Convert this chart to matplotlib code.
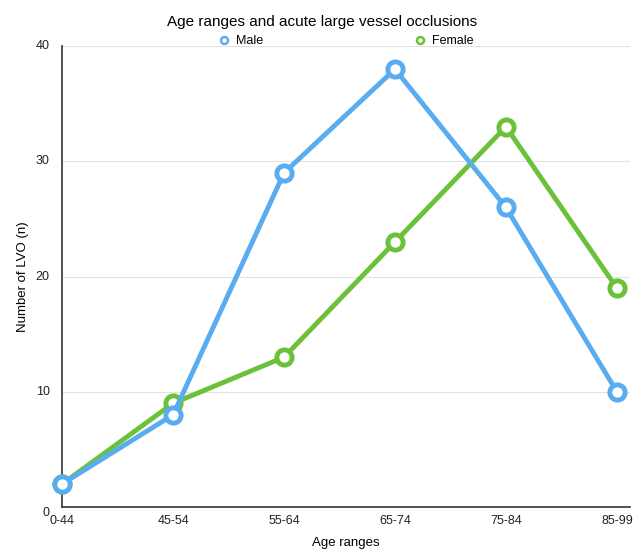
import matplotlib.pyplot as plt
from matplotlib.lines import Line2D

ages = ['0-44', '45-54', '55-64', '65-74', '75-84', '85-99']
male = [2, 8, 29, 38, 26, 10]
female = [2, 9, 13, 23, 33, 19]

blue = '#5aacf0'
green = '#6cc13a'

plt.rcParams['font.family'] = ['Liberation Sans', 'DejaVu Sans']

fig = plt.figure(figsize=(6.34, 5.49), dpi=100)
ax = fig.add_axes([0.098, 0.0765, 0.896, 0.8395])

x = list(range(len(ages)))
ax.plot(x, female, color=green, lw=3.5, marker='o', ms=11, mfc='white',
        mec=green, mew=3.5, label='Female', zorder=3, clip_on=False)
ax.plot(x, male, color=blue, lw=3.5, marker='o', ms=11, mfc='white',
        mec=blue, mew=3.5, label='Male', zorder=4, clip_on=False)

ax.set_xlim(0, 5.12)
ax.set_ylim(0, 40)
ax.set_xticks(x)
ax.set_xticklabels(ages)
ax.set_yticks([0, 10, 20, 30, 40])
ax.tick_params(length=0, labelsize=9, colors='#222222')
ax.tick_params(axis='x', pad=6)
ax.tick_params(axis='y', pad=9)
for lab in ax.get_yticklabels():
    lab.set_verticalalignment('top' if lab.get_text() == '0' else 'center')
ax.grid(axis='y', color='#e2e2e2', lw=0.8)
ax.set_axisbelow(True)
for s in ['top', 'right']:
    ax.spines[s].set_visible(False)
for s in ['left', 'bottom']:
    ax.spines[s].set_color('#333333')
    ax.spines[s].set_linewidth(1.2)

ax.set_xlabel('Age ranges', fontsize=9.5, labelpad=7)
ax.set_ylabel('Number of LVO (n)', fontsize=9.5, labelpad=5)

fig.text(0.508, 0.96, 'Age ranges and acute large vessel occlusions',
         ha='center', va='center', fontsize=11)

hm = Line2D([], [], ls='none', marker='o', ms=5, mfc='white', mec=blue, mew=1.8)
hf = Line2D([], [], ls='none', marker='o', ms=5, mfc='white', mec=green, mew=1.8)
fig.legend([hm, hf], ['Male', 'Female'], loc='center', bbox_to_anchor=(0.545, 0.925),
           ncol=2, frameon=False, fontsize=9, columnspacing=12, handletextpad=0.5,
           handlelength=1)

fig.savefig('out.png', dpi=100)
